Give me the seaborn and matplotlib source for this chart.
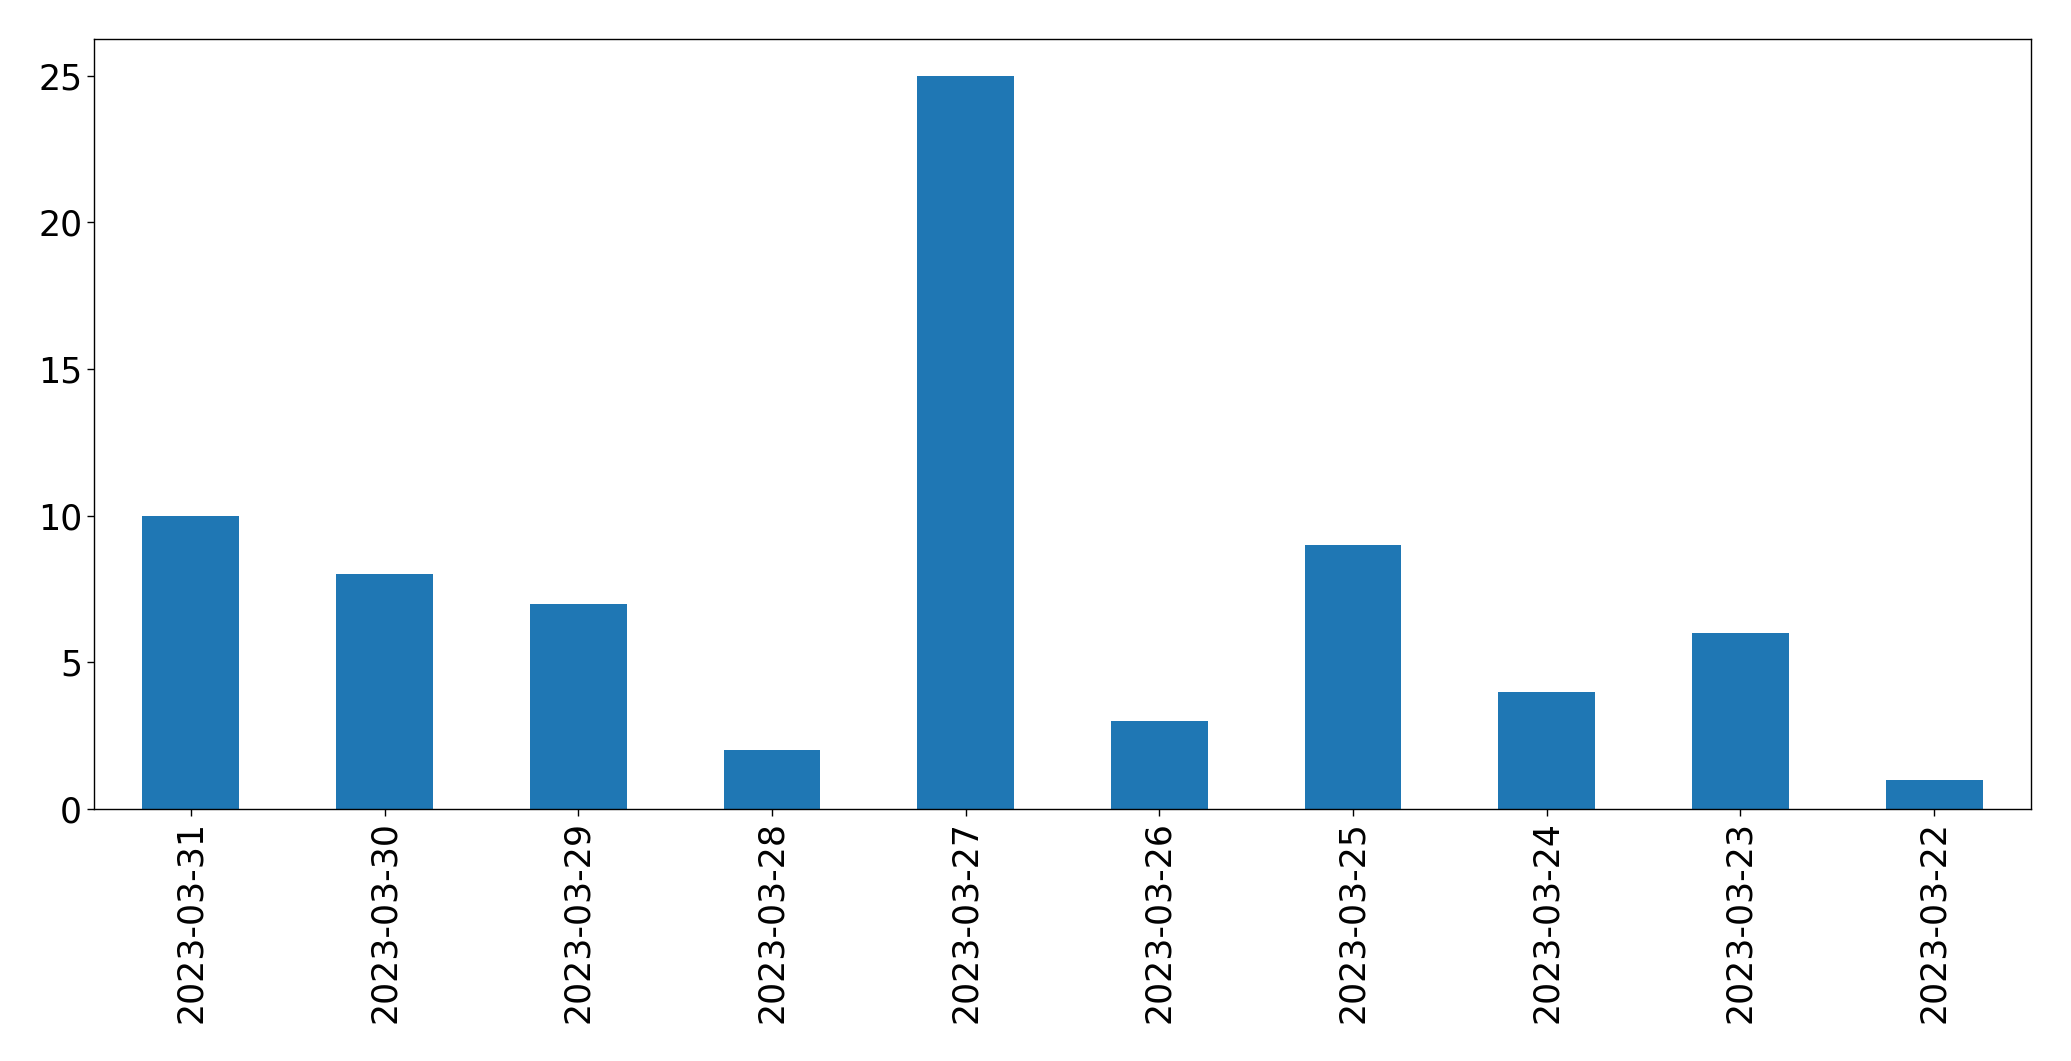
import pandas as pd
import matplotlib
matplotlib.use("Agg")
import matplotlib.pyplot as plt
import seaborn as sns

dates = ["2023-03-31", "2023-03-30", "2023-03-29", "2023-03-28", "2023-03-27",
         "2023-03-26", "2023-03-25", "2023-03-24", "2023-03-23", "2023-03-22"]
counts = [10, 8, 7, 2, 25, 3, 9, 4, 6, 1]

df = pd.DataFrame({"date": dates, "count": counts})

sns.set_style("ticks", rc={"axes.edgecolor": "black", "text.color": "black",
                           "xtick.color": "black", "ytick.color": "black",
                           "axes.labelcolor": "black"})
plt.rcParams["font.family"] = ["DejaVu Sans"]

fig = plt.figure(figsize=(20.71, 10.61), dpi=100)
ax = fig.add_axes([94 / 2071, 1 - 809 / 1061, (2031 - 94) / 2071, (809 - 39) / 1061])

sns.barplot(data=df, x="date", y="count", order=dates, color="#1f77b4",
            saturation=1, width=0.5, linewidth=0, ax=ax)

ax.set_xlim(-0.5, len(dates) - 0.5)
ax.set_ylim(0, max(counts) * 1.05)
ax.set_xlabel("")
ax.set_ylabel("")
ax.tick_params(axis="x", labelrotation=90, labelsize=25, length=5, width=1)
ax.tick_params(axis="y", labelsize=25, length=5, width=1)
for s in ax.spines.values():
    s.set_visible(True)
    s.set_linewidth(1.0)

fig.savefig("out.png", dpi=100)
